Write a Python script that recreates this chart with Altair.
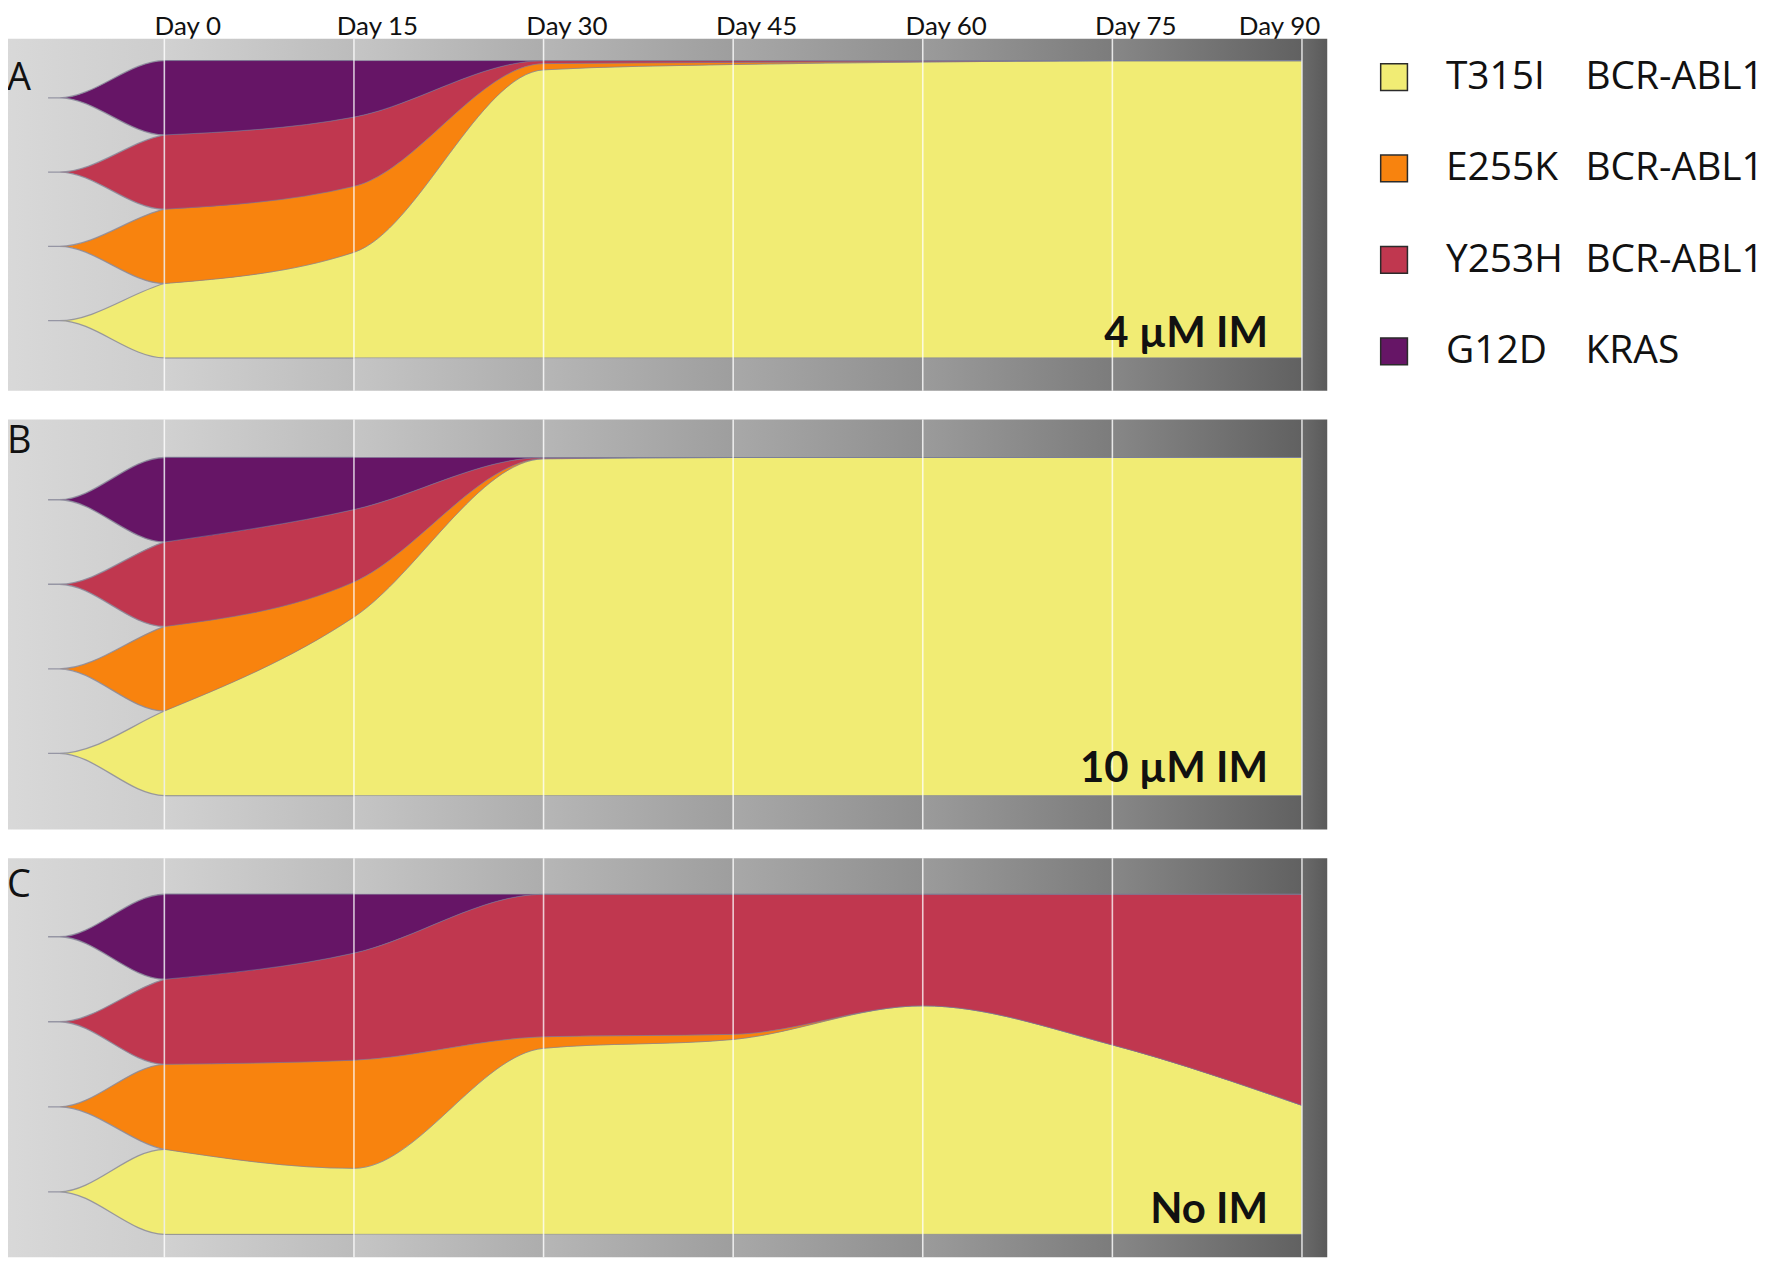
import altair as alt
import pandas as pd

# ---------------- data ----------------
DAYS = [0, 15, 30, 45, 60, 75, 90]
CLONES = ["T315I", "E255K", "Y253H", "G12D"]          # stacked bottom -> top
GENES = ["BCR-ABL1", "BCR-ABL1", "BCR-ABL1", "KRAS"]
ORIGIN_DAYS = [-9.2, -8.3]                            # emergence thread of each clone

# clone fractions at each day (panel A: 4 uM IM)
A_T315I = [0.25, 0.355, 0.969, 0.987, 0.995, 1.0, 1.0]
A_E255K = [0.25, 0.222, 0.021, 0.007, 0.002, 0.0, 0.0]
A_Y253H = [0.25, 0.233, 0.010, 0.006, 0.003, 0.0, 0.0]
A_G12D = [0.25, 0.190, 0.0, 0.0, 0.0, 0.0, 0.0]

# panel B: 10 uM IM
B_T315I = [0.25, 0.528, 0.996, 1.0, 1.0, 1.0, 1.0]
B_E255K = [0.25, 0.104, 0.001, 0.0, 0.0, 0.0, 0.0]
B_Y253H = [0.25, 0.214, 0.003, 0.0, 0.0, 0.0, 0.0]
B_G12D = [0.25, 0.154, 0.0, 0.0, 0.0, 0.0, 0.0]

# panel C: No IM
C_T315I = [0.25, 0.194, 0.547, 0.573, 0.672, 0.557, 0.379]
C_E255K = [0.25, 0.318, 0.034, 0.015, 0.0, 0.0, 0.0]
C_Y253H = [0.25, 0.315, 0.419, 0.412, 0.328, 0.443, 0.621]
C_G12D = [0.25, 0.173, 0.0, 0.0, 0.0, 0.0, 0.0]

PANEL_LETTERS = ["A", "B", "C"]
CONDITIONS = ["4 µM IM", "10 µM IM", "No IM"]

# ---------------- styles ----------------
CLONE_COLORS = ["#F1EC74", "#F8830E", "#C0374F", "#661566"]
X_DOMAIN = [-13, 92]
BG_LEFT = ["#d9d9d9", "#d1d1d1", "#c5c5c5", "#b6b6b6", "#a8a8a8", "#9b9b9b", "#878787", "#6b6b6b"]
BG_RIGHT = ["#cdcdcd", "#bcbcbc", "#adadad", "#9e9e9e", "#8f8f8f", "#7c7c7c", "#616161", "#5a5a5a"]
W = 1331


def build(fr):
    main_rows, fan_rows = [], []
    for i, d in enumerate(DAYS):
        lo = 0.0
        for c in CLONES:
            f = fr[c][i]
            main_rows.append(dict(clone=c, day=d, lo=lo, hi=lo + f))
            lo += f
    lo0, lo1 = 0.0, 0.0
    for c in CLONES:
        f0, f1 = fr[c][0], fr[c][1]
        mid = lo0 + f0 / 2
        for d in ORIGIN_DAYS:
            fan_rows.append(dict(clone=c, day=d, lo=mid, hi=mid))
        fan_rows.append(dict(clone=c, day=DAYS[0], lo=lo0, hi=lo0 + f0))
        fan_rows.append(dict(clone=c, day=DAYS[1], lo=lo1, hi=lo1 + f1))
        lo0 += f0
        lo1 += f1
    return pd.DataFrame(main_rows), pd.DataFrame(fan_rows)


def panel(fr, letter, cond, H, tm, bm, letter_y, cond_dy, top_axis):
    xs = alt.Scale(domain=X_DOMAIN, nice=False, zero=False)
    ys = alt.Scale(domain=[0, 1], range=[H - bm, tm], nice=False, zero=False)
    if top_axis:
        xaxis = alt.Axis(orient="top", values=DAYS, labelExpr="'Day ' + datum.value",
                         domain=False, ticks=False, tickSize=0, grid=False, title=None,
                         labelFont="Lato", labelFontSize=26, labelColor="#111111",
                         labelPadding=4, labelBaseline="alphabetic",
                         labelFlush=False, labelOverlap=False,
                         labelOffset={"condition": {"test": "datum.value == 90", "value": -23},
                                      "value": 23})
    else:
        xaxis = None
    color = alt.Color("clone:N", scale=alt.Scale(domain=CLONES, range=CLONE_COLORS), legend=None)

    edges = [X_DOMAIN[0]] + DAYS + [X_DOMAIN[1]]
    layers = []
    for i in range(len(edges) - 1):
        seg = pd.DataFrame({"start": [edges[i]], "end": [edges[i + 1]]})
        grad = alt.Gradient(gradient="linear",
                            stops=[alt.GradientStop(color=BG_LEFT[i], offset=0),
                                   alt.GradientStop(color=BG_RIGHT[i], offset=1)],
                            x1=0, x2=1, y1=0, y2=0)
        layers.append(alt.Chart(seg).mark_rect(fill=grad).encode(
            x=alt.X("start:Q", scale=xs, axis=xaxis), x2="end:Q",
            y=alt.value(0), y2=alt.value(H)))

    main_df, fan_df = build(fr)
    layers.append(alt.Chart(fan_df).mark_area(
        interpolate="monotone", stroke="#8b8b9b", strokeWidth=1.3, strokeOpacity=0.85).encode(
        x=alt.X("day:Q", scale=xs, axis=xaxis),
        y=alt.Y("hi:Q", scale=ys, axis=None), y2="lo:Q", color=color))
    layers.append(alt.Chart(main_df).mark_area(
        interpolate="monotone", stroke="#7a7f99", strokeWidth=0.9, strokeOpacity=0.55).encode(
        x=alt.X("day:Q", scale=xs, axis=xaxis),
        y=alt.Y("hi:Q", scale=ys, axis=None), y2="lo:Q", color=color))

    layers.append(alt.Chart(pd.DataFrame({"day": DAYS})).mark_rule(
        color="white", strokeWidth=1.6, opacity=0.75).encode(
        x=alt.X("day:Q", scale=xs, axis=xaxis), y=alt.value(0), y2=alt.value(H)))

    layers.append(alt.Chart(pd.DataFrame({"t": [letter]})).mark_text(
        align="left", baseline="alphabetic", font="Open Sans", fontSize=38,
        color="#111111").encode(text="t:N", x=alt.value(7), y=alt.value(letter_y)))

    layers.append(alt.Chart(pd.DataFrame({"t": [cond], "day": [DAYS[-1]], "base": [0]})).mark_text(
        align="right", baseline="alphabetic", dx=-34, dy=cond_dy, font="Lato",
        fontWeight="bold", fontSize=42, color="#111111").encode(
        text="t:N", x=alt.X("day:Q", scale=xs, axis=xaxis),
        y=alt.Y("base:Q", scale=ys, axis=None)))

    return alt.layer(*layers).properties(width=W, height=H)


def fracs(t, e, y, g):
    return {"T315I": t, "E255K": e, "Y253H": y, "G12D": g}


pA = panel(fracs(A_T315I, A_E255K, A_Y253H, A_G12D), PANEL_LETTERS[0], CONDITIONS[0],
           353, 22, 33, 51, -11, True)
pB = panel(fracs(B_T315I, B_E255K, B_Y253H, B_G12D), PANEL_LETTERS[1], CONDITIONS[1],
           411, 38, 34, 33, -14, False)
pC = panel(fracs(C_T315I, C_E255K, C_Y253H, C_G12D), PANEL_LETTERS[2], CONDITIONS[2],
           400, 36, 23, 39, -11, False)

# ---------------- legend ----------------
leg_df = pd.DataFrame({"clone": CLONES, "gene": GENES})
ly = alt.Y("clone:N", sort=CLONES, scale=alt.Scale(type="point", padding=0.42), axis=None)
leg_base = alt.Chart(leg_df)
sq = leg_base.mark_square(size=720, stroke="#2b2b2b", strokeWidth=1.5, opacity=1).encode(
    x=alt.value(67), y=ly,
    fill=alt.Fill("clone:N", scale=alt.Scale(domain=CLONES, range=CLONE_COLORS), legend=None))
t1 = leg_base.mark_text(align="left", baseline="middle", font="Open Sans", fontSize=39,
                        color="#111111").encode(x=alt.value(119), y=ly, text="clone:N")
t2 = leg_base.mark_text(align="left", baseline="middle", font="Open Sans", fontSize=39,
                        color="#111111").encode(x=alt.value(259), y=ly, text="gene:N")
legend = alt.layer(sq, t1, t2).properties(width=420, height=352)

chart = alt.hconcat(alt.vconcat(pA, pB, pC, spacing=27), legend, spacing=0).properties(
    padding={"left": -8, "top": 4, "right": 0, "bottom": 0}).configure_view(stroke=None)

chart.save("out.html", embed_options={"renderer": "svg", "actions": False})
